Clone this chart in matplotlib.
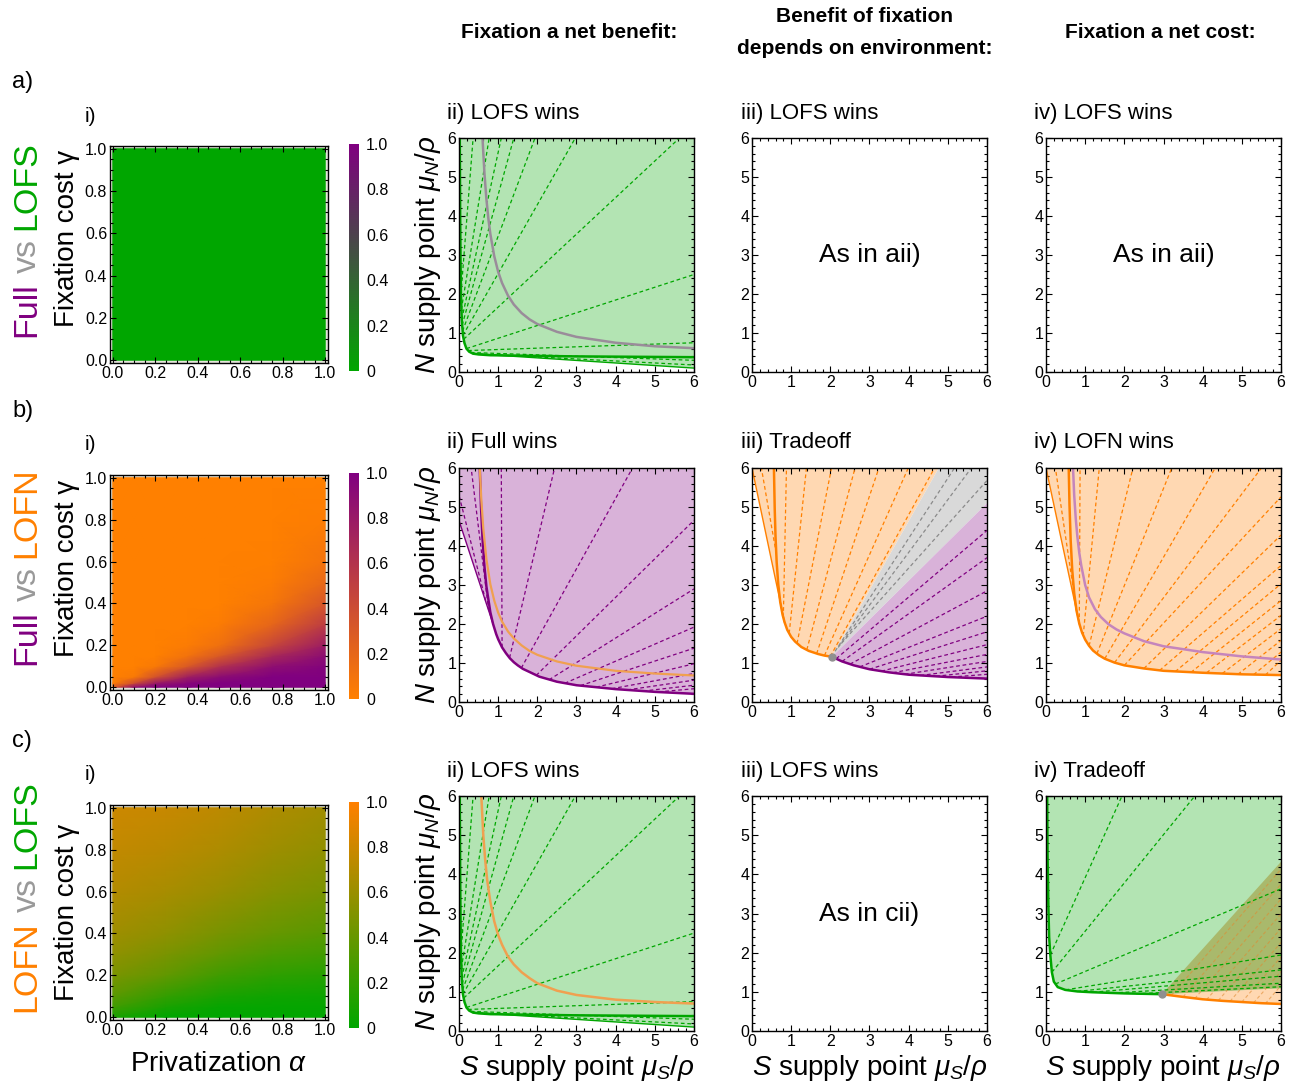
import numpy as np
import matplotlib.pyplot as plt
from matplotlib.colors import LinearSegmentedColormap

plt.rcParams['font.family'] = ['Liberation Sans', 'DejaVu Sans']
plt.rcParams['mathtext.fontset'] = 'custom'
plt.rcParams['mathtext.rm'] = 'Liberation Sans'
plt.rcParams['mathtext.it'] = 'Liberation Sans:italic'
plt.rcParams['mathtext.bf'] = 'Liberation Sans:bold'

# colours
GREEN = '#00A600'
PURPLE = '#800080'
ORANGE = '#FF8000'
GREEN_FILL = '#B3E4B3'
PURPLE_FILL = '#D9B2D9'
ORANGE_FILL = '#FFD8B2'
GRAY_FILL = '#D9D9D9'
OLIVE_FILL = '#A9B96C'
GRAY_LINE = '#9A8C9A'
LIGHT_ORANGE = '#F0A050'
PINK_LINE = '#C585BC'

# ---- heatmaps (column i) ----
ht_a_alpha = [0.0, 1.0]
ht_a_gamma = [0.0, 1.0]
ht_a_vals = [[0.0, 0.0], [0.0, 0.0]]

ht_b_alpha = [0.0, 0.1, 0.2, 0.35, 0.5, 0.75, 1.0]
ht_b_gamma = [0.0, 0.02, 0.05, 0.1, 0.15, 0.2, 0.3, 0.4, 0.5, 0.6, 0.8, 1.0]
ht_b_vals = [
    [0.3, 0.9, 1.0, 1.0, 1.0, 1.0, 1.0],
    [0.0, 0.4, 0.8, 0.95, 1.0, 1.0, 1.0],
    [0.0, 0.05, 0.35, 0.75, 0.9, 1.0, 1.0],
    [0.0, 0.0, 0.05, 0.3, 0.6, 0.88, 0.97],
    [0.0, 0.0, 0.0, 0.1, 0.3, 0.68, 0.9],
    [0.0, 0.0, 0.0, 0.03, 0.12, 0.45, 0.78],
    [0.0, 0.0, 0.0, 0.0, 0.03, 0.2, 0.52],
    [0.0, 0.0, 0.0, 0.0, 0.0, 0.08, 0.32],
    [0.0, 0.0, 0.0, 0.0, 0.0, 0.03, 0.18],
    [0.0, 0.0, 0.0, 0.0, 0.0, 0.01, 0.09],
    [0.0, 0.0, 0.0, 0.0, 0.0, 0.0, 0.02],
    [0.0, 0.0, 0.0, 0.0, 0.0, 0.0, 0.0],
]

ht_c_alpha = [0.0, 0.25, 0.5, 0.75, 1.0]
ht_c_gamma = [0.0, 0.05, 0.1, 0.2, 0.3, 0.4, 0.6, 0.8, 1.0]
ht_c_vals = [
    [0.1, 0.0, 0.0, 0.0, 0.0],
    [0.25, 0.1, 0.03, 0.02, 0.02],
    [0.35, 0.2, 0.1, 0.06, 0.05],
    [0.48, 0.38, 0.25, 0.18, 0.15],
    [0.56, 0.48, 0.38, 0.3, 0.26],
    [0.62, 0.56, 0.47, 0.4, 0.35],
    [0.7, 0.66, 0.6, 0.53, 0.48],
    [0.76, 0.73, 0.68, 0.62, 0.57],
    [0.8, 0.78, 0.74, 0.68, 0.63],
]
cbar_ticks = [0, 0.2, 0.4, 0.6, 0.8, 1.0]
cbar_labels = ['0', '0.2', '0.4', '0.6', '0.8', '1.0']

# ---- LOFS wins panels (a-ii, c-ii) ----
lofs_curve_x = [0.02, 0.03, 0.04, 0.05, 0.07, 0.1, 0.14, 0.19, 0.26, 0.36, 0.5, 0.8, 1.5, 3.0, 4.5, 6.0]
lofs_curve_y = [6.0, 4.0, 2.8, 2.0, 1.35, 0.94, 0.74, 0.6, 0.52, 0.47, 0.45, 0.43, 0.42, 0.40, 0.39, 0.38]
lofs_edge_x = [0.36, 6.0]
lofs_edge_y = [0.47, 0.1]
lofs_ray_x0 = [0.05, 0.06, 0.07, 0.08, 0.09, 0.1, 0.12, 0.19, 0.23, 0.3, 0.36]
lofs_ray_y0 = [2.0, 1.6, 1.35, 1.2, 1.05, 0.94, 0.84, 0.6, 0.55, 0.5, 0.47]
lofs_ray_x1 = [0.36, 0.77, 1.08, 1.40, 1.94, 2.97, 5.63, 6.0, 6.0, 6.0, 6.0]
lofs_ray_y1 = [6.0, 6.0, 6.0, 6.0, 6.0, 6.0, 6.0, 2.5, 0.75, 0.3, 0.18]
aii_gray_x = [0.6, 0.65, 0.7, 0.75, 0.8, 0.9, 1.0, 1.1, 1.25, 1.4, 1.6, 1.8, 2.0, 2.5, 3.0, 4.0, 5.0, 6.0]
aii_gray_y = [6.0, 5.09, 4.43, 3.93, 3.54, 2.97, 2.57, 2.28, 1.96, 1.73, 1.51, 1.35, 1.23, 1.03, 0.9, 0.75, 0.66, 0.61]
cii_orange_x = [0.57, 0.62, 0.67, 0.72, 0.8, 0.9, 1.0, 1.1, 1.25, 1.4, 1.6, 1.8, 2.0, 2.5, 3.0, 4.0, 5.0, 6.0]
cii_orange_y = [6.0, 5.0, 4.35, 3.85, 3.3, 2.8, 2.45, 2.2, 1.9, 1.7, 1.5, 1.35, 1.22, 1.03, 0.92, 0.8, 0.74, 0.7]

# ---- b-ii Full wins ----
full_curve_x = [0.53, 0.56, 0.6, 0.65, 0.7, 0.8, 0.87, 0.95, 1.0, 1.1, 1.2, 1.3, 1.4, 1.5, 1.63, 1.8,
                2.05, 2.5, 3.0, 4.0, 5.0, 6.0]
full_curve_y = [6.0, 5.05, 4.2, 3.47, 2.96, 2.3, 2.0, 1.74, 1.61, 1.4, 1.25, 1.12, 1.02, 0.94, 0.85, 0.77,
                0.65, 0.52, 0.43, 0.33, 0.26, 0.21]
full_edge_x = [0.0, 0.87]
full_edge_y = [4.65, 2.0]
bii_orange_x = [0.53, 0.57, 0.62, 0.7, 0.8, 0.9, 1.0, 1.1, 1.25, 1.4, 1.6, 1.8, 2.0, 2.5, 3.0, 4.0, 5.0, 6.0]
bii_orange_y = [6.0, 5.18, 4.45, 3.66, 3.02, 2.6, 2.29, 2.06, 1.81, 1.63, 1.45, 1.31, 1.21, 1.04, 0.93, 0.8, 0.73, 0.68]
full_ray_x0 = [0.76, 0.68, 1.1, 1.29, 1.59, 1.97, 2.3, 2.7, 3.1, 3.5, 3.9, 4.3, 4.7, 5.1]
full_ray_y0 = [2.33, 2.6, 1.4, 1.13, 0.87, 0.68, 0.57, 0.48, 0.42, 0.38, 0.34, 0.31, 0.28, 0.26]
full_ray_x1 = [0.31, 0.0, 1.08, 2.44, 4.43, 6.0, 6.0, 6.0, 6.0, 6.0, 6.0, 6.0, 6.0, 6.0]
full_ray_y1 = [6.0, 5.3, 6.0, 6.0, 6.0, 4.66, 2.9, 1.92, 1.38, 0.98, 0.73, 0.56, 0.43, 0.34]

# ---- b-iii Tradeoff ----
biii_orange_x = [0.56, 0.58, 0.6, 0.63, 0.67, 0.72, 0.78, 0.83, 0.9, 1.0, 1.1, 1.26, 1.45, 1.69, 1.85, 2.04]
biii_orange_y = [6.0, 4.95, 4.26, 3.58, 3.02, 2.57, 2.24, 2.05, 1.85, 1.67, 1.55, 1.41, 1.31, 1.23, 1.19, 1.16]
biii_purple_x = [2.04, 2.3, 2.6, 3.0, 3.5, 4.0, 4.5, 5.0, 5.5, 6.0]
biii_purple_y = [1.16, 1.04, 0.94, 0.84, 0.76, 0.7, 0.67, 0.64, 0.62, 0.6]
biii_split_x = [4.77, 6.0]     # where the wedges meet the frame
biii_split_y = [6.0, 5.1]
biii_or_ray_x0 = [0.62, 0.8, 0.95, 1.15, 1.4, 1.65, 1.85, 2.0]
biii_or_ray_y0 = [3.8, 2.17, 1.76, 1.5, 1.34, 1.24, 1.19, 1.17]
biii_or_ray_x1 = [0.24, 0.88, 1.39, 2.03, 2.63, 3.24, 3.99, 4.66]
biii_or_ray_y1 = [6.0, 6.0, 6.0, 6.0, 6.0, 6.0, 6.0, 6.0]
biii_gr_ray_x0 = [2.12, 2.2, 2.28]
biii_gr_ray_y0 = [1.3, 1.4, 1.5]
biii_gr_ray_x1 = [5.17, 5.6, 6.0]
biii_gr_ray_y1 = [6.0, 6.0, 5.68]
biii_pu_ray_x0 = [2.15, 2.3, 2.5, 2.75, 3.0, 3.3, 3.6, 3.9, 4.3, 4.7, 5.1]
biii_pu_ray_y0 = [1.11, 1.04, 0.97, 0.9, 0.84, 0.79, 0.75, 0.71, 0.68, 0.66, 0.64]
biii_pu_ray_x1 = [6.0, 6.0, 6.0, 6.0, 6.0, 6.0, 6.0, 6.0, 6.0, 6.0, 6.0]
biii_pu_ray_y1 = [4.4, 3.7, 2.85, 2.2, 1.8, 1.47, 1.22, 1.04, 0.9, 0.8, 0.71]

# ---- b-iv LOFN wins ----
biv_orange_x = [0.58, 0.6, 0.63, 0.67, 0.72, 0.78, 0.85, 0.92, 1.0, 1.1, 1.2, 1.35, 1.5, 1.75, 2.0, 2.5, 3.0, 4.0, 5.0, 6.0]
biv_orange_y = [6.0, 5.05, 4.14, 3.38, 2.79, 2.34, 2.01, 1.78, 1.6, 1.44, 1.32, 1.2, 1.11, 1.01, 0.94, 0.86, 0.8, 0.75, 0.71, 0.69]
biv_edge_x = [0.0, 0.85]
biv_edge_y = [6.0, 2.01]
biv_pink_x = [0.69, 0.72, 0.76, 0.8, 0.85, 0.9, 1.0, 1.1, 1.25, 1.4, 1.6, 1.8, 2.0, 2.5, 3.0, 4.0, 5.0, 6.0]
biv_pink_y = [6.0, 5.3, 4.7, 4.25, 3.82, 3.5, 3.0, 2.68, 2.38, 2.18, 1.99, 1.86, 1.76, 1.56, 1.43, 1.28, 1.17, 1.09]
biv_ray_x0 = [0.78, 0.85, 0.95, 1.1, 1.3, 1.5, 1.75, 2.0, 2.5, 2.9, 3.3, 3.7, 4.1, 4.5, 4.9, 5.3, 5.6]
biv_ray_y0 = [2.34, 2.01, 1.7, 1.44, 1.24, 1.11, 1.01, 0.94, 0.86, 0.81, 0.78, 0.76, 0.75, 0.73, 0.71, 0.7, 0.69]
biv_ray_x1 = [0.24, 0.87, 1.36, 2.22, 3.21, 4.32, 5.5, 6.0, 6.0, 6.0, 6.0, 6.0, 6.0, 6.0, 6.0, 6.0, 6.0]
biv_ray_y1 = [6.0, 6.0, 6.0, 6.0, 6.0, 6.0, 6.0, 5.26, 4.28, 3.5, 3.03, 2.6, 2.22, 1.88, 1.58, 1.28, 1.07]

# ---- c-iv Tradeoff ----
civ_green_x = [0.03, 0.04, 0.06, 0.08, 0.11, 0.15, 0.2, 0.3, 0.49, 0.8, 1.17, 2.0, 2.96]
civ_green_y = [6.0, 4.5, 3.2, 2.4, 1.94, 1.5, 1.26, 1.12, 1.05, 1.01, 0.99, 0.96, 0.94]
civ_orange_x = [2.96, 3.5, 4.0, 4.5, 5.0, 5.5, 6.0]
civ_orange_y = [0.94, 0.87, 0.81, 0.77, 0.74, 0.71, 0.69]
civ_split_y = [4.32, 1.09]      # wedge edges at the right frame
civ_gr_ray_x0 = [0.11, 0.15, 0.24, 0.5, 0.8, 1.2, 1.7, 2.3]
civ_gr_ray_y0 = [1.94, 1.5, 1.2, 1.05, 1.01, 0.99, 0.97, 0.95]
civ_gr_ray_x1 = [1.94, 3.8, 6.0, 6.0, 6.0, 6.0, 6.0, 6.0]
civ_gr_ray_y1 = [6.0, 6.0, 3.63, 1.94, 1.56, 1.4, 1.22, 1.13]
civ_or_ray_x0 = [3.2, 3.5, 3.8, 4.1, 4.4, 4.7, 5.0, 5.3, 5.6]
civ_or_ray_y0 = [0.91, 0.87, 0.83, 0.8, 0.78, 0.76, 0.74, 0.72, 0.7]
civ_or_ray_x1 = [6.0, 6.0, 6.0, 6.0, 6.0, 6.0, 6.0, 6.0, 6.0]
civ_or_ray_y1 = [4.13, 3.75, 3.37, 2.99, 2.62, 2.26, 1.89, 1.52, 1.16]

row_titles = [['ii) LOFS wins', 'iii) LOFS wins', 'iv) LOFS wins'],
              ['ii) Full wins', 'iii) Tradeoff', 'iv) LOFN wins'],
              ['ii) LOFS wins', 'iii) LOFS wins', 'iv) Tradeoff']]
row_names = [[('Full', PURPLE), ('vs', '#999999'), ('LOFS', GREEN)],
             [('Full', PURPLE), ('vs', '#999999'), ('LOFN', ORANGE)],
             [('LOFN', ORANGE), ('vs', '#999999'), ('LOFS', GREEN)]]

W, H = 1298, 1085
fig = plt.figure(figsize=(W / 100, H / 100), dpi=100)


def box(x0, y0, x1, y1):
    return [x0 / W, 1 - y1 / H, (x1 - x0) / W, (y1 - y0) / H]


def ftext(x, y, s, **kw):
    return fig.text(x / W, 1 - y / H, s, **kw)


def frame_ticks(ax, size=11.5):
    ax.tick_params(which='both', direction='in', top=True, right=True, width=0.8)
    ax.tick_params(which='major', length=4, labelsize=size, pad=2)
    ax.tick_params(which='minor', length=2.2)
    for s in ax.spines.values():
        s.set_linewidth(1.0)


def phase_axes(x0, x1, y0, y1):
    ax = fig.add_axes(box(x0, y0, x1, y1))
    ax.set_xlim(0, 6)
    ax.set_ylim(0, 6)
    ax.set_xticks(range(7))
    ax.set_yticks(range(7))
    ax.set_xticks(np.arange(0, 6.01, 0.2), minor=True)
    ax.set_yticks(np.arange(0, 6.01, 0.2), minor=True)
    frame_ticks(ax)
    return ax


def dashed(ax, x0, y0, x1, y1, color, alpha=1.0, lw=0.9):
    for a, b, c, d in zip(x0, y0, x1, y1):
        ax.plot([a, c], [b, d], color=color, lw=lw, ls=(0, (3, 2.2)), alpha=alpha)


# ---------- heatmaps ----------
heat_boxes = [(110, 146, 328, 363), (110, 475, 328, 690), (110, 805, 328, 1020)]
cbar_boxes = [(349, 144, 359, 371), (349, 473, 359, 699), (349, 802, 359, 1028)]
heat_data = [(ht_a_alpha, ht_a_gamma, ht_a_vals, [GREEN, PURPLE]),
             (ht_b_alpha, ht_b_gamma, ht_b_vals, [ORANGE, PURPLE]),
             (ht_c_alpha, ht_c_gamma, ht_c_vals, [GREEN, ORANGE])]
for hb, cbb, (al, ga, vals, cols) in zip(heat_boxes, cbar_boxes, heat_data):
    ax = fig.add_axes(box(*hb))
    cmap = LinearSegmentedColormap.from_list('m', cols)
    A, G = np.meshgrid(al, ga)
    mesh = ax.pcolormesh(A, G, np.array(vals), cmap=cmap, vmin=0, vmax=1, shading='gouraud')
    ax.set_facecolor('#E4E4DA')
    ax.set_xlim(-0.013, 1.013)
    ax.set_ylim(-0.013, 1.013)
    ticks = [0, 0.2, 0.4, 0.6, 0.8, 1.0]
    ax.set_xticks(ticks)
    ax.set_yticks(ticks)
    ax.set_xticklabels(['%.1f' % t for t in ticks])
    ax.set_yticklabels(['%.1f' % t for t in ticks])
    ax.set_xticks(np.arange(0, 1.001, 0.05), minor=True)
    ax.set_yticks(np.arange(0, 1.001, 0.05), minor=True)
    frame_ticks(ax, 11.5)
    cax = fig.add_axes(box(*cbb))
    cb = fig.colorbar(mesh, cax=cax, ticks=cbar_ticks)
    cb.ax.set_yticklabels(cbar_labels)
    cb.outline.set_visible(False)
    cb.ax.tick_params(length=0, labelsize=11.5, pad=5)

# ---------- phase planes ----------
col_x = [(459, 694), (752, 987), (1046, 1281)]
row_y = [(138, 372), (468, 702), (796, 1031)]
axs = [[phase_axes(cx[0], cx[1], ry[0], ry[1]) for cx in col_x] for ry in row_y]

# a-ii and c-ii: LOFS wins
for ax, cx, cy, ccol in [(axs[0][0], aii_gray_x, aii_gray_y, GRAY_LINE),
                         (axs[2][0], cii_orange_x, cii_orange_y, LIGHT_ORANGE)]:
    ax.fill(lofs_curve_x[:10] + [lofs_edge_x[1], 6.0], lofs_curve_y[:10] + [lofs_edge_y[1], 6.0],
            color=GREEN_FILL, lw=0)
    dashed(ax, lofs_ray_x0, lofs_ray_y0, lofs_ray_x1, lofs_ray_y1, GREEN)
    ax.plot(lofs_edge_x, lofs_edge_y, color=GREEN, lw=1.0)
    ax.plot(lofs_curve_x, lofs_curve_y, color=GREEN, lw=1.8)
    ax.plot(cx, cy, color=ccol, lw=1.8)

# b-ii: Full wins
ax = axs[1][0]
ax.fill([0.0] + full_edge_x + full_curve_x[7:] + [6.0], [6.0] + full_edge_y + full_curve_y[7:] + [6.0],
        color=PURPLE_FILL, lw=0)
dashed(ax, full_ray_x0, full_ray_y0, full_ray_x1, full_ray_y1, PURPLE)
ax.plot(full_edge_x, full_edge_y, color=PURPLE, lw=1.0)
ax.plot(full_curve_x, full_curve_y, color=PURPLE, lw=1.8)
ax.plot(bii_orange_x, bii_orange_y, color=LIGHT_ORANGE, lw=1.6)

# b-iii: Tradeoff
ax = axs[1][1]
dot_x, dot_y = biii_orange_x[-1], biii_orange_y[-1]
ax.fill([0.0] + biii_orange_x[7:] + [biii_split_x[0]], [6.0] + biii_orange_y[7:] + [6.0],
        color=ORANGE_FILL, lw=0)
ax.fill([dot_x, biii_split_x[0], 6.0, biii_split_x[1]], [dot_y, biii_split_y[0], 6.0, biii_split_y[1]],
        color=GRAY_FILL, lw=0)
ax.fill(biii_purple_x + [biii_split_x[1]], biii_purple_y + [biii_split_y[1]], color=PURPLE_FILL, lw=0)
dashed(ax, biii_or_ray_x0, biii_or_ray_y0, biii_or_ray_x1, biii_or_ray_y1, ORANGE)
dashed(ax, biii_gr_ray_x0, biii_gr_ray_y0, biii_gr_ray_x1, biii_gr_ray_y1, '#8A8A8A')
dashed(ax, biii_pu_ray_x0, biii_pu_ray_y0, biii_pu_ray_x1, biii_pu_ray_y1, PURPLE)
ax.plot([0.0, biii_orange_x[7]], [6.0, biii_orange_y[7]], color=ORANGE, lw=1.0)
ax.plot(biii_orange_x, biii_orange_y, color=ORANGE, lw=1.8)
ax.plot(biii_purple_x, biii_purple_y, color=PURPLE, lw=1.8)
ax.plot([dot_x], [dot_y], 'o', color='#909090', ms=5, zorder=5)

# b-iv: LOFN wins
ax = axs[1][2]
ax.fill(biv_edge_x + biv_orange_x[7:] + [6.0], biv_edge_y + biv_orange_y[7:] + [6.0],
        color=ORANGE_FILL, lw=0)
dashed(ax, biv_ray_x0, biv_ray_y0, biv_ray_x1, biv_ray_y1, ORANGE)
ax.plot(biv_edge_x, biv_edge_y, color=ORANGE, lw=1.0)
ax.plot(biv_orange_x, biv_orange_y, color=ORANGE, lw=1.8)
ax.plot(biv_pink_x, biv_pink_y, color=PINK_LINE, lw=1.8)

# c-iv: Tradeoff
ax = axs[2][2]
dx, dy = civ_green_x[-1], civ_green_y[-1]
ax.fill(civ_green_x + [6.0, 6.0], civ_green_y + [civ_split_y[1], 6.0], color=GREEN_FILL, lw=0)
ax.fill(civ_orange_x + [6.0], civ_orange_y + [civ_split_y[1]], color=ORANGE_FILL, lw=0)
ax.fill([dx, 6.0, 6.0], [dy, civ_split_y[0], civ_split_y[1]], color=OLIVE_FILL, lw=0)
dashed(ax, civ_or_ray_x0, civ_or_ray_y0, civ_or_ray_x1, civ_or_ray_y1, '#E08A30', alpha=0.6, lw=0.8)
dashed(ax, civ_gr_ray_x0, civ_gr_ray_y0, civ_gr_ray_x1, civ_gr_ray_y1, GREEN)
ax.plot(civ_green_x, civ_green_y, color=GREEN, lw=1.8)
ax.plot(civ_orange_x, civ_orange_y, color=ORANGE, lw=1.8)
ax.plot([dx], [dy], 'o', color='#909090', ms=5, zorder=5)

# placeholders
axs[0][1].text(3, 3, 'As in aii)', ha='center', va='center', fontsize=19)
axs[0][2].text(3, 3, 'As in aii)', ha='center', va='center', fontsize=19)
axs[2][1].text(3, 3, 'As in cii)', ha='center', va='center', fontsize=19)

# ---------- text ----------
ftext(569, 33, 'Fixation a net benefit:', ha='center', va='center', fontsize=15, fontweight='bold')
ftext(865, 17, 'Benefit of fixation', ha='center', va='center', fontsize=15, fontweight='bold')
ftext(865, 48, 'depends on environment:', ha='center', va='center', fontsize=15, fontweight='bold')
ftext(1160, 33, 'Fixation a net cost:', ha='center', va='center', fontsize=15, fontweight='bold')

letter_y = [82, 411, 741]
i_y = [117, 445, 775]
title_y = [113, 442, 771]
title_x = [447, 741, 1034]
ylab_y = [238, 568, 912]
nlab_y = [255, 585, 912]
name_bottom = [337, 665, 1012]
for r in range(3):
    ftext(12, letter_y[r], 'abc'[r] + ')', ha='left', va='center', fontsize=17)
    ftext(85, i_y[r], 'i)', ha='left', va='center', fontsize=15)
    for c in range(3):
        ftext(title_x[c], title_y[r], row_titles[r][c], ha='left', va='center', fontsize=16)
    ftext(67, ylab_y[r], 'Fixation cost γ', rotation=90, ha='center', va='center', fontsize=20)
    ftext(428, nlab_y[r], r'$N$ supply point $\mu_N/\rho$', rotation=90, ha='center', va='center', fontsize=20)

for cx in [577, 870, 1163]:
    ftext(cx, 1068, r'$S$ supply point $\mu_S/\rho$', ha='center', va='center', fontsize=20)
ftext(219, 1064, r'Privatization $\alpha$', ha='center', va='center', fontsize=20)

# coloured row names, stacked bottom to top
renderer = fig.canvas.get_renderer()
for r in range(3):
    y = name_bottom[r]
    for word, col in row_names[r]:
        t = ftext(27, y, word, rotation=90, ha='center', va='bottom', fontsize=24.5, color=col)
        bb = t.get_window_extent(renderer)
        y -= bb.height + 9

fig.savefig('out.png', dpi=100)
